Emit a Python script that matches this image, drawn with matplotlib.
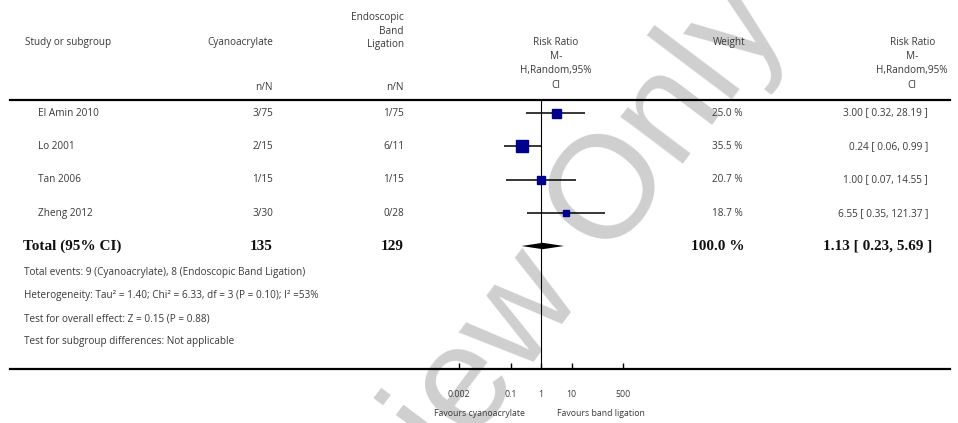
import matplotlib
matplotlib.use("Agg")
from matplotlib import pyplot as plt
from matplotlib.ticker import NullLocator

# study rows
studies = ["El Amin 2010", "Lo 2001", "Tan 2006", "Zheng 2012"]
cyano_nN = ["3/75", "2/15", "1/15", "3/30"]
ebl_nN = ["1/75", "6/11", "1/15", "0/28"]
weights = [25.0, 35.5, 20.7, 18.7]
rr = [3.00, 0.24, 1.00, 6.55]
ci_low = [0.32, 0.06, 0.07, 0.35]
ci_high = [28.19, 0.99, 14.55, 121.37]

# pooled result
total_cyano = 135
total_ebl = 129
total_weight = 100.0
total_rr = 1.13
total_low = 0.23
total_high = 5.69

axis_ticks = [0.002, 0.1, 1, 10, 500]
axis_ticklabels = ["0.002", "0.1", "1", "10", "500"]

footnotes = [
    "Total events: 9 (Cyanoacrylate), 8 (Endoscopic Band Ligation)",
    "Heterogeneity: Tau\u00b2 = 1.40; Chi\u00b2 = 6.33, df = 3 (P = 0.10); I\u00b2 =53%",
    "Test for overall effect: Z = 0.15 (P = 0.88)",
    "Test for subgroup differences: Not applicable",
]

W, H = 958, 423
txt_col = "#3a3a3a"
sans = ["Open Sans", "DejaVu Sans"]
serif = ["Liberation Serif", "DejaVu Serif"]
fs = 7.2

fig = plt.figure(figsize=(W / 100, H / 100), dpi=100)

# watermark, behind everything
fig.text(790 / W, 1 - 22 / H, "For Peer Review Only", fontsize=105,
         family=["Liberation Sans", "DejaVu Sans"], color="#cfcfcf",
         rotation=53, rotation_mode="anchor", ha="right", va="baseline",
         zorder=-5)

# text layer in pixel coordinates
tx = fig.add_axes([0, 0, 1, 1])
tx.set_xlim(0, W)
tx.set_ylim(H, 0)
tx.axis("off")

# forest plot axes: 1 sits at x=541 px, ~30.5 px per decade
fx = fig.add_axes([10 / W, 1 - 369 / H, 940 / W, 269 / H])
fx.patch.set_visible(False)
fx.set_xscale("log")
x_one, decade = 541, 30.5
fx.set_xlim(10 ** ((10 - x_one) / decade), 10 ** ((950 - x_one) / decade))
fx.set_ylim(369, 100)

row_y = [113 + i * 33.4 for i in range(len(studies))]
total_y = 246

# headers
tx.text(25, 43, "Study or subgroup", ha="left", va="center", fontsize=fs, family=sans, color=txt_col)
tx.text(273, 43, "Cyanoacrylate", ha="right", va="center", fontsize=fs, family=sans, color=txt_col)
tx.text(404, 50, "Endoscopic\nBand\nLigation", ha="right", va="bottom", fontsize=fs, family=sans,
        color=txt_col, multialignment="right", linespacing=1.3)
tx.text(273, 88, "n/N", ha="right", va="center", fontsize=fs, family=sans, color=txt_col)
tx.text(404, 88, "n/N", ha="right", va="center", fontsize=fs, family=sans, color=txt_col)
tx.text(556, 37, "Risk Ratio\nM-\nH,Random,95%\nCI", ha="center", va="top", fontsize=fs, family=sans,
        color=txt_col, multialignment="center", linespacing=1.4)
tx.text(745, 43, "Weight", ha="right", va="center", fontsize=fs, family=sans, color=txt_col)
tx.text(948, 37, "Risk Ratio\nM-\nH,Random,95%\nCI", ha="right", va="top", fontsize=fs, family=sans,
        color=txt_col, multialignment="center", linespacing=1.4)

# study rows
for i, name in enumerate(studies):
    y = row_y[i]
    tx.text(38, y, name, ha="left", va="center", fontsize=fs, family=sans, color=txt_col)
    tx.text(273, y, cyano_nN[i], ha="right", va="center", fontsize=fs, family=sans, color=txt_col)
    tx.text(404, y, ebl_nN[i], ha="right", va="center", fontsize=fs, family=sans, color=txt_col)
    tx.text(743, y, "%.1f %%" % weights[i], ha="right", va="center", fontsize=fs, family=sans, color=txt_col)
    tx.text(928, y, "%.2f [ %.2f, %.2f ]" % (rr[i], ci_low[i], ci_high[i]), ha="right", va="center",
            fontsize=fs, family=sans, color=txt_col)
    fx.plot([ci_low[i], ci_high[i]], [y, y], color="black", lw=1.1, solid_capstyle="butt")
    fx.plot(rr[i], y, marker="s", ms=0.36 * weights[i] * 0.72, color="#00008f", mec="#00008f", zorder=3)

# total row
tx.text(23, total_y, "Total (95% CI)", ha="left", va="center", fontsize=11, family=serif,
        weight="bold", color="#111111")
tx.text(273, total_y, str(total_cyano), ha="right", va="center", fontsize=11, family=serif,
        weight="bold", color="#111111")
tx.text(404, total_y, str(total_ebl), ha="right", va="center", fontsize=11, family=serif,
        weight="bold", color="#111111")
tx.text(745, total_y, "%.1f %%" % total_weight, ha="right", va="center", fontsize=11, family=serif,
        weight="bold", color="#111111")
tx.text(932, total_y, "%.2f [ %.2f, %.2f ]" % (total_rr, total_low, total_high), ha="right",
        va="center", fontsize=11, family=serif, weight="bold", color="#111111")
fx.fill([total_low, total_rr, total_high, total_rr],
        [total_y, total_y - 3.2, total_y, total_y + 3.2], color="black", lw=0, zorder=3)

for i, note in enumerate(footnotes):
    tx.text(24, 272 + i * 23.3, note, ha="left", va="center", fontsize=fs, family=sans, color=txt_col)

# line of no effect and axis
fx.axvline(1, color="black", lw=0.8, zorder=2)
for side in ["left", "right"]:
    fx.spines[side].set_visible(False)
for side in ["top", "bottom"]:
    fx.spines[side].set_linewidth(1.6)
fx.set_xticks(axis_ticks)
fx.set_xticklabels(axis_ticklabels)
fx.xaxis.set_minor_locator(NullLocator())
fx.set_yticks([])
fx.tick_params(axis="x", direction="in", length=4, width=1, pad=15, labelsize=6.3,
               labelcolor=txt_col)
for lab in fx.get_xticklabels():
    lab.set_family(sans)

tx.text(525, 413, "Favours cyanoacrylate", ha="right", va="center", fontsize=6.3, family=sans, color=txt_col)
tx.text(557, 413, "Favours band ligation", ha="left", va="center", fontsize=6.3, family=sans, color=txt_col)

fig.savefig("out.png", dpi=100)
